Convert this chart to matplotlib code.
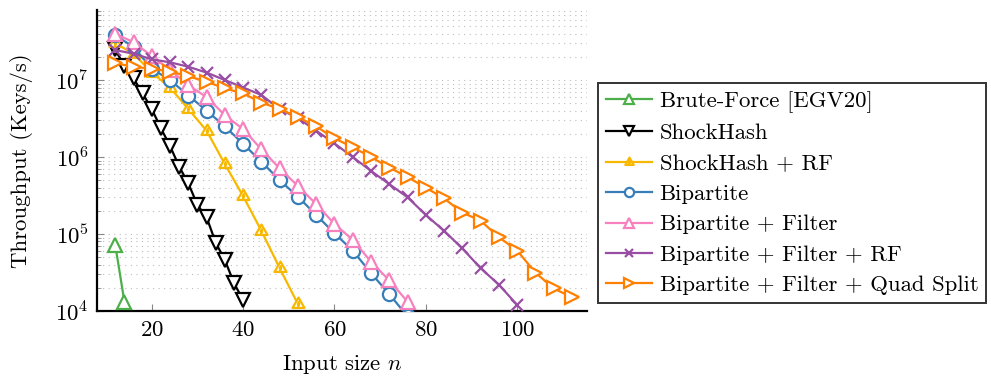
import numpy as np
import matplotlib
matplotlib.use("Agg")
import matplotlib.pyplot as plt
from matplotlib.path import Path
from matplotlib.ticker import LogLocator, LogFormatterSciNotation, NullFormatter, FixedLocator

plt.rcParams["font.family"] = ["cmr10", "DejaVu Serif"]
plt.rcParams["mathtext.fontset"] = "cm"
plt.rcParams["axes.formatter.use_mathtext"] = True

# ---- data: throughput (keys/s) against input size n ----
n_brute = [12, 14]
tp_brute = [7.2e4, 1.32e4]

n_shock = [12, 14, 16, 18, 20, 22, 24, 26, 28, 30, 32, 34, 36, 38, 40]
tp_shock = [2.5e7, 1.5e7, 1.05e7, 6.7e6, 4.2e6, 2.36e6, 1.39e6, 7.5e5,
            4.55e5, 2.38e5, 1.65e5, 7.7e4, 4.6e4, 2.3e4, 1.39e4]

n_shock_rf = [12, 16, 20, 24, 28, 32, 36, 40, 44, 48, 52]
tp_shock_rf = [3.0e7, 2.2e7, 1.25e7, 8.0e6, 4.2e6, 2.2e6, 8.1e5, 3.1e5,
               1.1e5, 3.6e4, 1.23e4]

n_bip = [12, 16, 20, 24, 28, 32, 36, 40, 44, 48, 52, 56, 60, 64, 68, 72, 76]
tp_bip = [3.8e7, 2.7e7, 1.4e7, 1.0e7, 6.3e6, 4.0e6, 2.5e6, 1.48e6, 8.7e5,
          5.0e5, 3.05e5, 1.77e5, 1.02e5, 6.1e4, 3.1e4, 1.66e4, 8.5e3]

n_bip_f = [12, 16, 20, 24, 28, 32, 36, 40, 44, 48, 52, 56, 60, 64, 68, 72, 76]
tp_bip_f = [4.0e7, 3.1e7, 2.05e7, 1.35e7, 8.6e6, 6.0e6, 3.5e6, 2.3e6, 1.26e6,
            7.1e5, 4.2e5, 2.45e5, 1.35e5, 8.4e4, 4.37e4, 2.5e4, 1.32e4]

n_bip_f_rf = [12, 16, 20, 24, 28, 32, 36, 40, 44, 48, 52, 56, 60, 64, 68, 72,
              76, 80, 84, 88, 92, 96, 100]
tp_bip_f_rf = [2.45e7, 2.2e7, 1.86e7, 1.7e7, 1.49e7, 1.25e7, 1.0e7, 8.0e6,
               6.4e6, 4.2e6, 3.2e6, 2.2e6, 1.5e6, 1.0e6, 6.6e5, 4.45e5, 3.0e5,
               1.77e5, 1.1e5, 6.5e4, 3.6e4, 2.2e4, 1.2e4]

n_bip_f_qs = [12, 16, 20, 24, 28, 32, 36, 40, 44, 48, 52, 56, 60, 64, 68, 72,
              76, 80, 84, 88, 92, 96, 100, 104, 108, 112]
tp_bip_f_qs = [1.65e7, 1.49e7, 1.4e7, 1.29e7, 1.12e7, 9.5e6, 7.8e6, 6.7e6,
               5.1e6, 4.2e6, 3.3e6, 2.5e6, 1.75e6, 1.34e6, 1.0e6, 7.3e5,
               5.5e5, 4.0e5, 2.9e5, 1.9e5, 1.49e5, 9.1e4, 6.1e4, 3.15e4,
               1.97e4, 1.5e4]

labels = ["Brute-Force [EGV20]", "ShockHash", "ShockHash + RF", "Bipartite",
          "Bipartite + Filter", "Bipartite + Filter + RF",
          "Bipartite + Filter + Quad Split"]

# triangle with a small lightning bolt inside
tri = [(0.0, 1.0), (-0.866, -0.5), (0.866, -0.5), (0.0, 1.0)]
bolt = [(0.08, 0.45), (-0.1, 0.02), (0.1, 0.06), (-0.08, -0.38)]
bolt_marker = Path(tri + bolt,
                   [Path.MOVETO, Path.LINETO, Path.LINETO, Path.CLOSEPOLY,
                    Path.MOVETO, Path.LINETO, Path.LINETO, Path.LINETO])

series = [
    (n_brute, tp_brute, "#4daf4a", "^"),
    (n_shock, tp_shock, "#000000", "v"),
    (n_shock_rf, tp_shock_rf, "#f8b800", bolt_marker),
    (n_bip, tp_bip, "#377eb8", "o"),
    (n_bip_f, tp_bip_f, "#f781bf", "^"),
    (n_bip_f_rf, tp_bip_f_rf, "#984ea3", "x"),
    (n_bip_f_qs, tp_bip_f_qs, "#ff7f00", ">"),
]

FS = 16.4
W, H = 991, 378
fig = plt.figure(figsize=(W / 100, H / 100), dpi=100)
ax = fig.add_axes([97 / W, 1 - 311 / H, (587 - 97) / W, (311 - 10) / H])

for (xs, ys, col, mk), lab in zip(series, labels):
    ms = 9.5
    if mk == "x":
        ms = 8
    if mk is bolt_marker:
        ms = 10
    ax.plot(xs, ys, color=col, lw=1.6, marker=mk, ms=ms, mew=1.6,
            mfc="white" if mk != "x" else col, mec=col, label=lab, zorder=3)

ax.set_yscale("log")
ax.set_xlim(8, 115.3)
ax.set_ylim(1e4, 10 ** 7.91)

ax.xaxis.set_major_locator(FixedLocator([20, 40, 60, 80, 100]))
ax.yaxis.set_major_locator(LogLocator(base=10, numticks=10))
ax.yaxis.set_minor_locator(LogLocator(base=10, subs=np.arange(2, 10), numticks=20))
ax.yaxis.set_major_formatter(LogFormatterSciNotation())
ax.yaxis.set_minor_formatter(NullFormatter())

ax.grid(True, which="both", axis="y", color="#bdbdbd", lw=0.8,
        linestyle=(0, (1, 4)), zorder=0)
ax.set_axisbelow(True)

for s in ("top", "right"):
    ax.spines[s].set_visible(False)
for s in ("left", "bottom"):
    ax.spines[s].set_linewidth(1.6)
    ax.spines[s].set_color("black")

ax.tick_params(axis="both", which="major", direction="in", color="#888888",
               length=5, width=0.8, labelsize=FS, pad=6)
ax.tick_params(axis="y", which="minor", direction="in", color="#888888",
               length=3, width=0.6)
ax.tick_params(axis="x", which="major", pad=7)

ax.set_xlabel("Input size $n$", fontsize=FS, labelpad=9)
ax.set_ylabel("Throughput (Keys/s)", fontsize=FS, labelpad=16)

leg = fig.legend(loc="upper left", bbox_to_anchor=(598 / W, 1 - 83 / H),
                 bbox_transform=fig.transFigure, fontsize=FS, frameon=True,
                 fancybox=False, edgecolor="black", borderpad=0.35,
                 handlelength=2.0, handletextpad=0.35, labelspacing=0.46,
                 markerscale=0.7, borderaxespad=0)
leg.get_frame().set_linewidth(1.4)

fig.savefig("out.png", dpi=100)
